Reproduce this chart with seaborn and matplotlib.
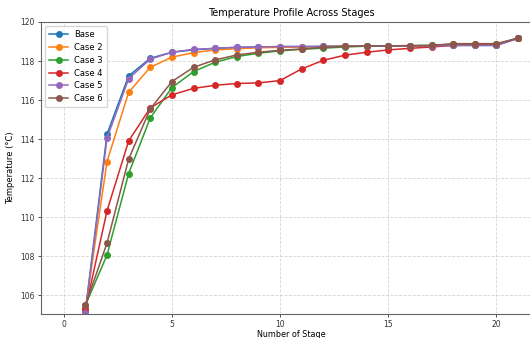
import pandas as pd
import matplotlib
matplotlib.use("Agg")
import matplotlib.pyplot as plt
import seaborn as sns

# stage numbers and temperatures
stages = list(range(1, 22))
base = [105.2, 114.26, 117.24, 118.14, 118.45, 118.57, 118.65, 118.7, 118.72, 118.74,
        118.74, 118.75, 118.76, 118.77, 118.77, 118.78, 118.78, 118.8, 118.8, 118.8, 119.17]
case2 = [105.3, 112.85, 116.4, 117.68, 118.2, 118.43, 118.57, 118.63, 118.68, 118.7,
         118.72, 118.74, 118.76, 118.77, 118.77, 118.78, 118.79, 118.85, 118.86, 118.86, 119.17]
case3 = [105.5, 108.07, 112.24, 115.09, 116.64, 117.46, 117.94, 118.23, 118.4, 118.52,
         118.6, 118.66, 118.72, 118.76, 118.77, 118.79, 118.8, 118.86, 118.87, 118.87, 119.17]
case4 = [105.3, 110.33, 113.91, 115.6, 116.27, 116.6, 116.76, 116.85, 116.88, 117.0,
         117.6, 118.04, 118.3, 118.45, 118.57, 118.65, 118.72, 118.8, 118.82, 118.82, 119.17]
case5 = [105.1, 114.05, 117.1, 118.1, 118.45, 118.6, 118.65, 118.7, 118.72, 118.74,
         118.74, 118.75, 118.76, 118.77, 118.77, 118.78, 118.78, 118.8, 118.8, 118.8, 119.17]
case6 = [105.5, 108.68, 112.98, 115.55, 116.95, 117.68, 118.06, 118.31, 118.45, 118.55,
         118.62, 118.7, 118.75, 118.77, 118.77, 118.79, 118.8, 118.89, 118.89, 118.89, 119.17]

cases = ["Base", "Case 2", "Case 3", "Case 4", "Case 5", "Case 6"]
series = [base, case2, case3, case4, case5, case6]

rows = []
for name, vals in zip(cases, series):
    for s, t in zip(stages, vals):
        rows.append({"stage": s, "temp": t, "case": name})
df = pd.DataFrame(rows)

fig = plt.figure(figsize=(5.3, 3.38), dpi=100)
ax = fig.add_axes([0.0774, 0.071, 0.943, 0.864])

sns.lineplot(data=df, x="stage", y="temp", hue="case", hue_order=cases,
             palette="tab10", marker="o", markersize=5, markeredgewidth=0,
             linewidth=1.1, ax=ax)

ax.set_xlim(-1.05, 22.05)
ax.set_ylim(105.05, 120)
ax.set_xticks([0, 5, 10, 15, 20])
ax.set_yticks([106, 108, 110, 112, 114, 116, 118, 120])
ax.grid(True, linestyle="--", color="#cccccc", linewidth=0.6, alpha=0.8)
ax.tick_params(labelsize=5.5, length=2.5, width=0.6, colors="#333333", pad=2)
for sp in ax.spines.values():
    sp.set_color("#666666")
    sp.set_linewidth(0.8)
ax.spines["right"].set_visible(False)

ax.set_title("Temperature Profile Across Stages", fontsize=7, pad=4)
ax.set_xlabel("Number of Stage", fontsize=5.8, labelpad=0.5)
ax.set_ylabel("Temperature (°C)", fontsize=6, labelpad=4)

handles, labels = ax.get_legend_handles_labels()
ax.legend(handles, labels, loc="upper left", fontsize=6, frameon=True,
          handlelength=2.2, borderpad=0.5, labelspacing=0.45)

fig.savefig("out.png", dpi=100)
